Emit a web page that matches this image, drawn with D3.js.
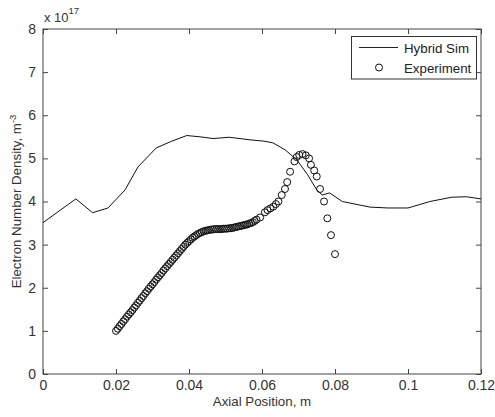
<!DOCTYPE html>
<html>
<head>
<meta charset="utf-8">
<script src="https://cdn.jsdelivr.net/npm/d3@7"></script>
<style>
  body { margin: 0; background: #fff; }
  svg { font-family: "Liberation Sans", Arial, sans-serif; }
  .tick text { fill: #333; font-size: 14px; }
  .tick line { stroke: #444; }
</style>
</head>
<body>
<svg id="chart" width="495" height="417"></svg>
<script>
// Hybrid simulation, axial position (m) vs density (x 1e17 m^-3)
var simX = [0, 0.009, 0.0136, 0.0178, 0.0225, 0.026, 0.031, 0.035, 0.0394, 0.043, 0.0466, 0.051,
  0.0567, 0.0605, 0.063, 0.0663, 0.0695, 0.0725, 0.075, 0.0765, 0.0785, 0.082, 0.0896, 0.0945,
  0.1, 0.106, 0.112, 0.116, 0.12];
var simY = [3.51, 4.06, 3.74, 3.85, 4.27, 4.8, 5.24, 5.39, 5.53, 5.5, 5.46, 5.49,
  5.43, 5.4, 5.36, 5.2, 4.97, 4.62, 4.27, 4.15, 4.2, 4.0, 3.87, 3.85,
  3.85, 4.0, 4.1, 4.11, 4.06];

// Experiment points
var expX = [0.0200, 0.0205, 0.0210, 0.0215, 0.0220, 0.0225, 0.0230, 0.0235, 0.0240, 0.0245,
  0.0250, 0.0255, 0.0260, 0.0265, 0.0270, 0.0275, 0.0280, 0.0285, 0.0290, 0.0295,
  0.0300, 0.0305, 0.0310, 0.0315, 0.0320, 0.0325, 0.0330, 0.0335, 0.0340, 0.0345,
  0.0350, 0.0355, 0.0360, 0.0365, 0.0370, 0.0375, 0.0380, 0.0385, 0.0390, 0.0395,
  0.0400, 0.0405, 0.0410, 0.0415, 0.0420, 0.0425, 0.0430, 0.0435, 0.0440, 0.0445,
  0.0450, 0.0455, 0.0460, 0.0465, 0.0470, 0.0475, 0.0480, 0.0485, 0.0490, 0.0495,
  0.0500, 0.0505, 0.0510, 0.0515, 0.0520, 0.0525, 0.0530, 0.0535, 0.0540, 0.0545,
  0.0550, 0.0555, 0.0560, 0.0565, 0.0570, 0.0575, 0.0580, 0.0585, 0.0595,
  0.0608, 0.0615, 0.0623, 0.0631, 0.0638, 0.0645, 0.0654, 0.0663, 0.0669, 0.0677, 0.0689,
  0.0695, 0.0702, 0.0711, 0.0720, 0.0729, 0.0734, 0.0743, 0.0750, 0.0759, 0.0770,
  0.0779, 0.0789, 0.0800];
var expY = [1.00, 1.05, 1.11, 1.16, 1.22, 1.27, 1.33, 1.38, 1.43, 1.48,
  1.54, 1.59, 1.65, 1.70, 1.76, 1.81, 1.87, 1.92, 1.98, 2.03,
  2.08, 2.13, 2.19, 2.24, 2.29, 2.34, 2.40, 2.45, 2.50, 2.55,
  2.60, 2.65, 2.70, 2.75, 2.80, 2.85, 2.90, 2.95, 3.00, 3.04,
  3.08, 3.12, 3.16, 3.19, 3.22, 3.25, 3.27, 3.29, 3.31, 3.32,
  3.33, 3.34, 3.35, 3.35, 3.36, 3.36, 3.36, 3.36, 3.36, 3.37,
  3.37, 3.37, 3.38, 3.38, 3.39, 3.40, 3.41, 3.42, 3.43, 3.44,
  3.45, 3.46, 3.47, 3.49, 3.50, 3.52, 3.55, 3.58, 3.63,
  3.75, 3.80, 3.84, 3.88, 3.94, 4.00, 4.15, 4.29, 4.45, 4.69, 4.93,
  5.03, 5.08, 5.10, 5.07, 5.00, 4.85, 4.72, 4.58, 4.29, 4.00,
  3.61, 3.22, 2.78];

var xTicks = [0, 0.02, 0.04, 0.06, 0.08, 0.1, 0.12];
var yTicks = [0, 1, 2, 3, 4, 5, 6, 7, 8];
var seriesNames = ["Hybrid Sim", "Experiment"];

var svg = d3.select("#chart");
var plotLeft = 43, plotRight = 481, plotTop = 29, plotBottom = 374;

var x = d3.scaleLinear().domain([0, 0.12]).range([plotLeft, plotRight]);
var y = d3.scaleLinear().domain([0, 8]).range([plotBottom, plotTop]);
var fmt = d3.format("~g");

// Axes with inward ticks on all four sides
svg.append("g")
    .attr("transform", "translate(0," + plotBottom + ")")
    .call(d3.axisBottom(x).tickValues(xTicks).tickFormat(fmt).tickSize(-5).tickPadding(6));
svg.append("g")
    .attr("transform", "translate(0," + plotTop + ")")
    .call(d3.axisTop(x).tickValues(xTicks).tickFormat("").tickSize(-5));
svg.append("g")
    .attr("transform", "translate(" + plotLeft + ",0)")
    .call(d3.axisLeft(y).tickValues(yTicks).tickFormat(fmt).tickSize(-5).tickPadding(7));
svg.append("g")
    .attr("transform", "translate(" + plotRight + ",0)")
    .call(d3.axisRight(y).tickValues(yTicks).tickFormat("").tickSize(-5));
svg.selectAll(".domain").remove();

svg.append("rect")
    .attr("x", plotLeft).attr("y", plotTop)
    .attr("width", plotRight - plotLeft).attr("height", plotBottom - plotTop)
    .attr("fill", "none").attr("stroke", "#444");

// Hybrid Sim line
var simData = simX.map(function (d, i) { return [d, simY[i]]; });
svg.append("path")
    .datum(simData)
    .attr("fill", "none")
    .attr("stroke", "#111")
    .attr("stroke-width", 1)
    .attr("d", d3.line().x(function (d) { return x(d[0]); }).y(function (d) { return y(d[1]); }));

// Experiment circles
var expData = expX.map(function (d, i) { return [d, expY[i]]; });
svg.append("g").selectAll("circle")
    .data(expData)
    .join("circle")
    .attr("cx", function (d) { return x(d[0]); })
    .attr("cy", function (d) { return y(d[1]); })
    .attr("r", 3.5)
    .attr("fill", "none")
    .attr("stroke", "#111")
    .attr("stroke-width", 1);

// Axis labels
svg.append("text")
    .attr("x", (plotLeft + plotRight) / 2).attr("y", 406)
    .attr("text-anchor", "middle")
    .attr("font-size", 13.3).attr("fill", "#333")
    .text("Axial Position, m");

var yl = svg.append("text")
    .attr("transform", "translate(21," + (plotTop + plotBottom) / 2 + ") rotate(-90)")
    .attr("text-anchor", "middle")
    .attr("font-size", 13.3).attr("fill", "#333");
yl.append("tspan").text("Electron Number Density, m");
yl.append("tspan").attr("dy", -5).attr("font-size", 9.5).text("-3");

// Exponent label
var ex = svg.append("text")
    .attr("x", 44).attr("y", 22)
    .attr("font-size", 13).attr("fill", "#333");
ex.append("tspan").text("x 10");
ex.append("tspan").attr("dy", -8).attr("font-size", 9.5).text("17");

// Legend
var lg = svg.append("g");
lg.append("rect")
    .attr("x", 351.5).attr("y", 36.5)
    .attr("width", 125).attr("height", 42.5)
    .attr("fill", "#fff").attr("stroke", "#333");
lg.append("line")
    .attr("x1", 359).attr("x2", 398).attr("y1", 47.5).attr("y2", 47.5)
    .attr("stroke", "#222");
lg.append("circle")
    .attr("cx", 379).attr("cy", 67.5).attr("r", 3.5)
    .attr("fill", "none").attr("stroke", "#111");
lg.selectAll("text.lab")
    .data(seriesNames)
    .join("text")
    .attr("class", "lab")
    .attr("x", 404)
    .attr("y", function (d, i) { return 52.5 + i * 20; })
    .attr("font-size", 13.3).attr("fill", "#222")
    .text(function (d) { return d; });
</script>
</body>
</html>
